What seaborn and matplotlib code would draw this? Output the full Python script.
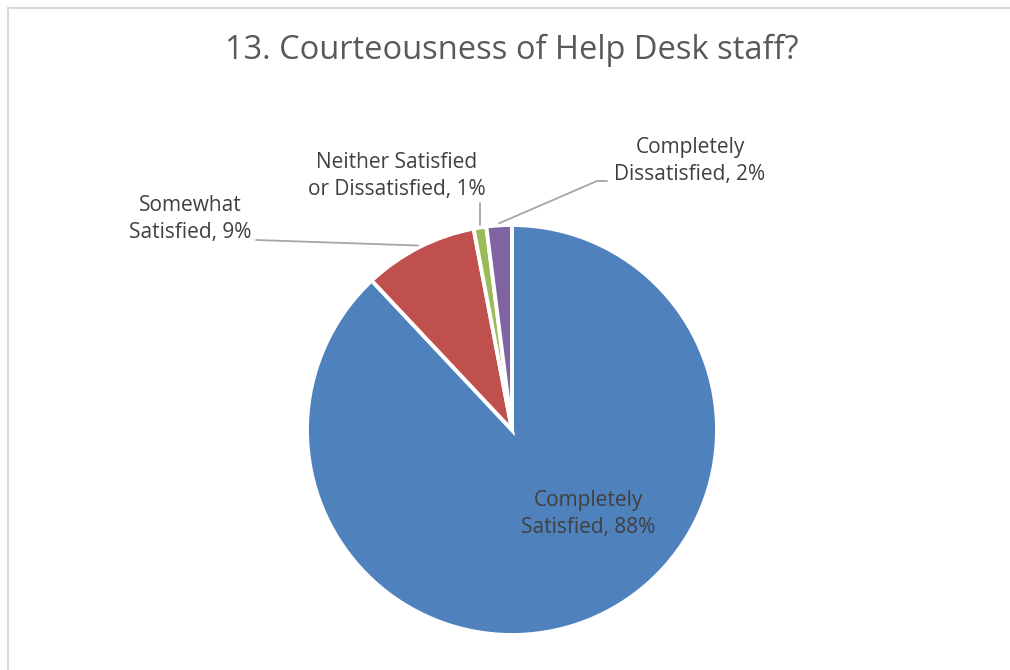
import matplotlib
matplotlib.use("Agg")
import matplotlib.pyplot as plt
from matplotlib.lines import Line2D
import numpy as np
import seaborn as sns

# Survey responses
categories = ["Completely Satisfied", "Somewhat Satisfied",
              "Neither Satisfied or Dissatisfied", "Completely Dissatisfied"]
label_text = ["Completely\nSatisfied, 88%", "Somewhat\nSatisfied, 9%",
              "Neither Satisfied\nor Dissatisfied, 1%", "Completely\nDissatisfied, 2%"]
shares = [88, 9, 1, 2]
title = "13. Courteousness of Help Desk staff?"

sns.set_theme(style="white")
plt.rcParams["font.family"] = ["Open Sans", "DejaVu Sans"]

colors = ["#4F81BD", "#C0504D", "#9BBB59", "#8064A2"]
text_color = "#404040"

W, H = 1010, 670
fig = plt.figure(figsize=(W / 100, H / 100), dpi=100)
fig.patch.set_facecolor("white")

# pie centre and radius in pixels
cx, cy, R = 512, 430, 205
ax = fig.add_axes([(cx - R) / W, (H - cy - R) / H, 2 * R / W, 2 * R / H])
ax.axis("off")

wedges, _ = ax.pie(shares, colors=colors, startangle=90, counterclock=False,
                   radius=1.0, wedgeprops=dict(edgecolor="white", linewidth=2.8))
ax.set_xlim(-1, 1)
ax.set_ylim(-1, 1)


def px2data(px, py):
    return (px - cx) / R, (cy - py) / R


def edge_point(w, r=1.0):
    ang = np.deg2rad((w.theta1 + w.theta2) / 2)
    return r * np.cos(ang), r * np.sin(ang)


fs = 15
ls = 1.35

# label inside the large slice
x, y = px2data(588, 514)
ax.text(x, y, label_text[0], ha="center", va="center", fontsize=fs,
        color=text_color, linespacing=ls)

# outside labels with leader lines (None = vertical leader above the edge point)
outside = [
    (1, (190, 219), [(256, 240)]),
    (2, (397, 176), [(None, 203)]),
    (3, (690, 161), [(607, 181), (597, 181)]),
]
for idx, (tx, ty), pts in outside:
    x, y = px2data(tx, ty)
    ax.text(x, y, label_text[idx], ha="center", va="center", fontsize=fs,
            color=text_color, linespacing=ls)
    ex, ey = edge_point(wedges[idx], 1.01)
    xs, ys = [], []
    for px, py in pts:
        dx, dy = px2data(px if px is not None else cx, py)
        xs.append(ex if px is None else dx)
        ys.append(dy)
    xs.append(ex)
    ys.append(ey)
    ax.add_line(Line2D(xs, ys, color="#A6A6A6", linewidth=1.3, clip_on=False))

fig.text(cx / W, 1 - 50 / H, title, ha="center", va="center",
         fontsize=23.5, color="#595959")

# chart frame (top and left edges visible)
fig.add_artist(Line2D([7.5 / W, 7.5 / W], [0, 1 - 7.5 / H], transform=fig.transFigure,
                      color="#D9D9D9", linewidth=1.5))
fig.add_artist(Line2D([7.5 / W, 1], [1 - 7.5 / H, 1 - 7.5 / H], transform=fig.transFigure,
                      color="#D9D9D9", linewidth=1.5))

fig.savefig("out.png", dpi=100, facecolor="white")
